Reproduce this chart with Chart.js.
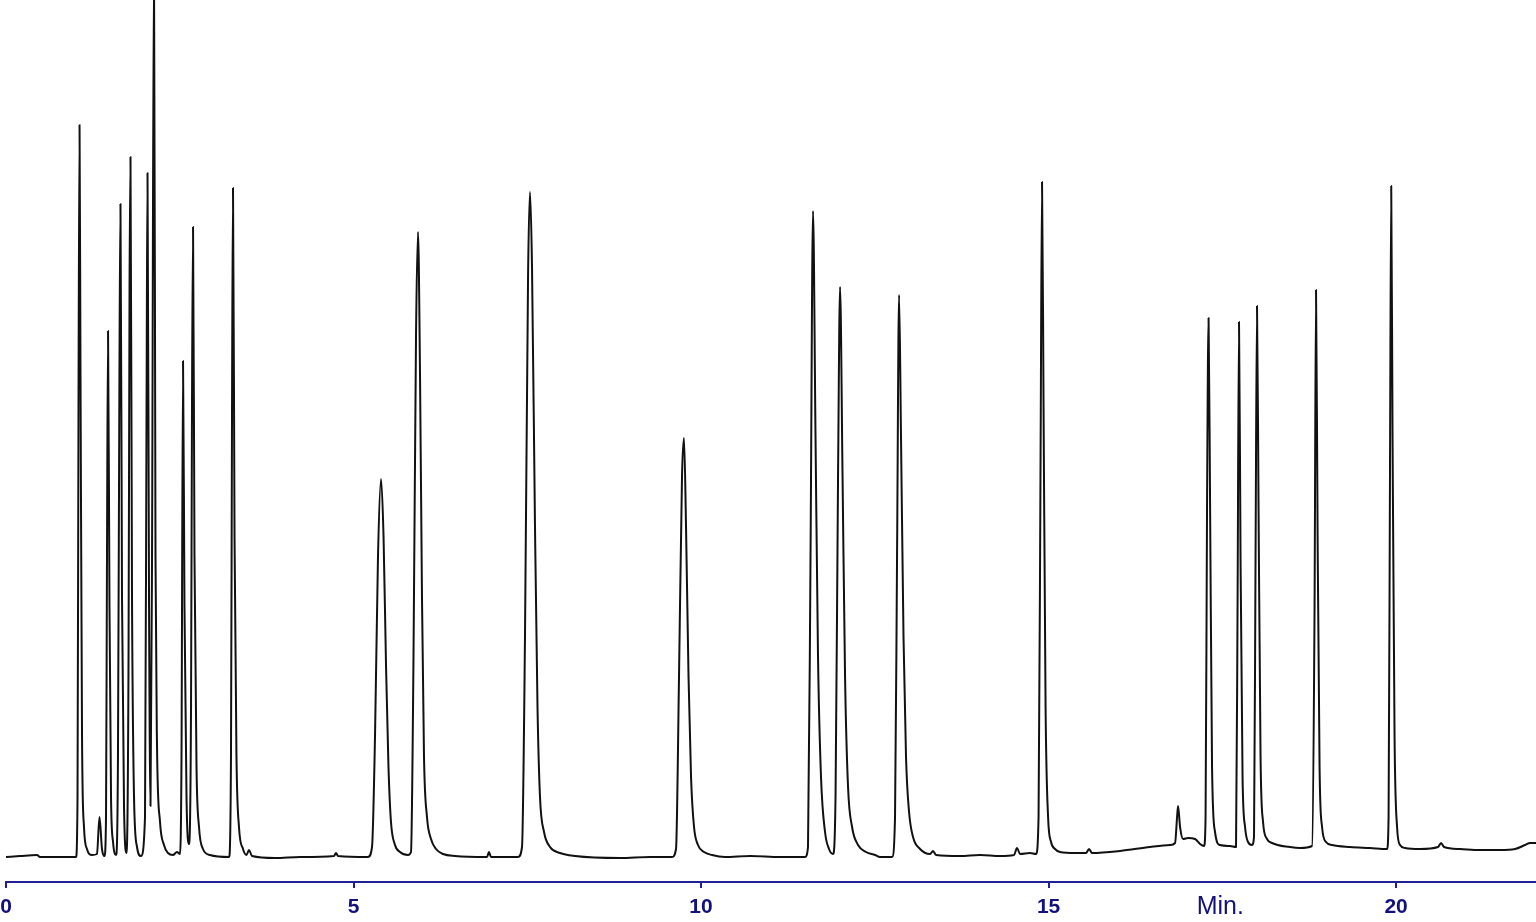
<!DOCTYPE html>
<html>
<head>
<meta charset="utf-8">
<script src="https://cdn.jsdelivr.net/npm/chart.js@4/dist/chart.umd.min.js"></script>
<style>
  html, body { margin: 0; padding: 0; background: #fff; overflow: hidden; }
  #wrap { width: 1536px; height: 922px; }
</style>
</head>
<body>
<div id="wrap"><canvas id="chrom" width="1536" height="922"></canvas></div>
<script>
// retention time (min) and detector signal
const retentionTimes = [
  0.000, 0.201, 0.446, 0.489, 1.007, 1.029, 1.043, 1.058, 1.072, 1.094, 1.122, 1.165, 1.237, 1.309, 1.345, 1.381, 1.417,
  1.439, 1.453, 1.468, 1.489, 1.511, 1.540, 1.583, 1.611, 1.633, 1.647, 1.669, 1.698, 1.734, 1.763, 1.777, 1.791, 1.813,
  1.842, 1.885, 1.942, 2.000, 2.022, 2.036, 2.058, 2.079, 2.101, 2.129, 2.151, 2.173, 2.216, 2.273, 2.331, 2.403, 2.460,
  2.504, 2.525, 2.547, 2.568, 2.597, 2.633, 2.662, 2.676, 2.691, 2.712, 2.741, 2.777, 2.834, 2.935, 3.209, 3.237, 3.252,
  3.266, 3.288, 3.316, 3.352, 3.410, 3.460, 3.496, 3.540, 3.870, 4.230, 4.719, 4.748, 4.777,
  5.208, 5.266, 5.309, 5.352, 5.396, 5.432, 5.468, 5.503, 5.539, 5.597, 5.669, 5.784,
  5.827, 5.863, 5.899, 5.928, 5.957, 5.985, 6.014, 6.057, 6.115, 6.187, 6.288, 6.460, 6.921, 6.949, 6.978,
  7.367, 7.424, 7.467, 7.511, 7.539, 7.568, 7.611, 7.647, 7.683, 7.741, 7.827, 7.971, 8.187, 8.834, 9.266,
  9.582, 9.640, 9.683, 9.726, 9.755, 9.784, 9.820, 9.856, 9.899, 9.956, 10.043, 10.158, 10.345, 10.705, 11.137,
  11.496, 11.539, 11.575, 11.611, 11.647, 11.683, 11.726, 11.784, 11.841, 11.899,
  11.935, 11.971, 12.000, 12.036, 12.072, 12.115, 12.173, 12.259, 12.374, 12.504, 12.575,
  12.748, 12.791, 12.820, 12.849, 12.877, 12.913, 12.949, 12.993, 13.050, 13.151, 13.295, 13.338, 13.381, 13.726,
  14.014, 14.302, 14.503, 14.546, 14.590, 14.733,
  14.820, 14.856, 14.885, 14.906, 14.928, 14.957, 14.993, 15.036, 15.093, 15.165, 15.381, 15.539, 15.582, 15.625,
  16.028, 16.460, 16.748, 16.820, 16.849, 16.863, 16.892, 16.935, 17.007, 17.108, 17.179, 17.237,
  17.259, 17.280, 17.302, 17.324, 17.352, 17.395, 17.467, 17.611, 17.697,
  17.719, 17.740, 17.762, 17.791, 17.827, 17.870, 17.927,
  17.956, 17.978, 17.999, 18.021, 18.050, 18.086, 18.143, 18.215, 18.474, 18.618, 18.791,
  18.827, 18.848, 18.870, 18.899, 18.935, 18.992, 19.079, 19.337, 19.625, 19.870,
  19.892, 19.913, 19.930, 19.949, 19.978, 20.014, 20.057, 20.129, 20.345, 20.604, 20.647, 20.690, 20.920, 21.208,
  21.496, 21.712, 21.856, 21.928, 22.013
];
const signal = [
  0, 1, 2, 0, 0, 60, 450, 732, 480, 120, 30, 8, 2, 3, 40, 8, 1,
  40, 300, 526, 250, 60, 15, 2, 100, 500, 653, 260, 50, 4, 200, 560, 700, 260,
  60, 10, 1, 40, 450, 684, 250, 51, 300, 900, 300, 110, 35, 12, 4, 2, 5,
  3, 100, 496, 250, 60, 13, 150, 450, 630, 300, 90, 30, 8, 2, 0, 100, 450,
  669, 320, 100, 30, 8, 2, 7, 1, -1, 0, 1, 4, 1,
  0, 10, 120, 300, 378, 320, 190, 90, 35, 12, 5, 2,
  5, 200, 520, 625, 480, 260, 100, 40, 18, 8, 3, 1, 0, 5, 0,
  0, 10, 220, 580, 665, 590, 330, 150, 60, 25, 10, 4, 1, -1, 0,
  0, 8, 180, 380, 419, 330, 180, 80, 30, 12, 5, 2, 0, 1, 0,
  0, 10, 300, 646, 420, 200, 80, 25, 8, 3,
  60, 380, 570, 380, 180, 70, 30, 12, 5, 2, 0,
  0, 40, 300, 562, 420, 220, 100, 45, 20, 8, 3, 6, 2, 1,
  2, 1, 2, 9, 3, 4,
  3, 40, 400, 675, 450, 150, 40, 15, 8, 5, 4, 4, 8, 4,
  6, 10, 12, 14, 40, 51, 30, 18, 19, 18, 13, 11,
  40, 350, 539, 350, 90, 25, 12, 11, 10,
  250, 535, 300, 80, 30, 15, 12,
  20, 300, 551, 350, 100, 35, 18, 14, 10, 9, 11,
  250, 567, 330, 90, 30, 15, 12, 10, 9, 8,
  40, 400, 671, 420, 120, 30, 12, 9, 8, 10, 14, 10, 8, 7,
  7, 8, 12, 14, 14
];
const tickMinutes = [0, 5, 10, 15, 20];
const unitLabel = 'Min.';
const unitLabelAt = 17.47;

const axisColor = '#1f1f96';
const labelColor = '#12127a';

const points = retentionTimes.map((t, i) => ({ x: t, y: signal[i] }));

new Chart(document.getElementById('chrom'), {
  type: 'line',
  data: {
    datasets: [{
      data: points,
      borderColor: '#111',
      borderWidth: 2,
      borderJoinStyle: 'round',
      pointRadius: 0,
      cubicInterpolationMode: 'monotone',
      fill: false
    }]
  },
  options: {
    responsive: false,
    animation: false,
    parsing: false,
    layout: { padding: 0 },
    plugins: { legend: { display: false }, tooltip: { enabled: false } },
    scales: {
      y: { display: false, min: -25, max: 857 },
      x: {
        type: 'linear',
        min: 0,
        max: 22.013,
        afterBuildTicks: scale => {
          scale.ticks = [...tickMinutes, unitLabelAt].sort((a, b) => a - b).map(v => ({ value: v }));
        },
        afterFit: scale => {
          // fixed axis band under the trace, zero sits 6px in from the left
          scale.height = 40;
          scale.paddingLeft = 6;
          scale.paddingRight = 0;
        },
        ticks: {
          autoSkip: false,
          maxRotation: 0,
          padding: 4,
          color: labelColor,
          callback: v => (v === unitLabelAt ? unitLabel : String(v)),
          font: ctx => (ctx.tick && ctx.tick.value === unitLabelAt)
            ? { family: 'Liberation Sans, Arial, sans-serif', size: 25, weight: 'normal', lineHeight: '30px' }
            : { family: 'Liberation Sans, Arial, sans-serif', size: 21, weight: 'bold', lineHeight: '30px' }
        },
        grid: {
          drawOnChartArea: false,
          drawTicks: true,
          tickLength: 6,
          lineWidth: 2,
          color: ctx => (ctx.tick && ctx.tick.value === unitLabelAt) ? 'rgba(0,0,0,0)' : axisColor
        },
        border: { display: true, color: axisColor, width: 2 }
      }
    }
  }
});
</script>
</body>
</html>
